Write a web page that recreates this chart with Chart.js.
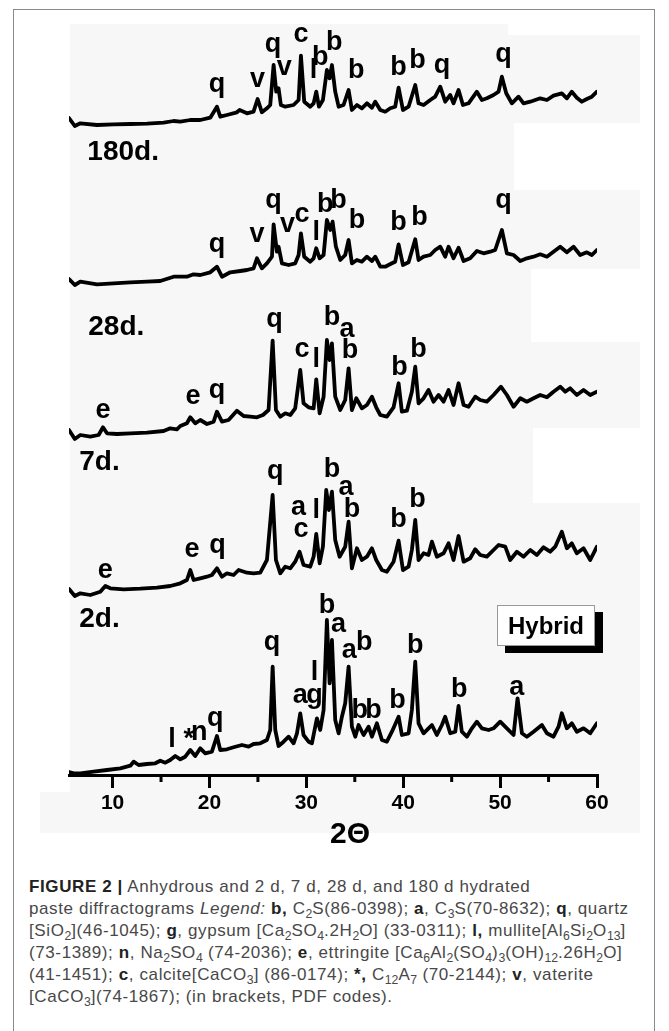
<!DOCTYPE html>
<html>
<head>
<meta charset="utf-8">
<script src="https://cdn.jsdelivr.net/npm/chart.js@4.4.1/dist/chart.umd.min.js"></script>
<style>
  html, body { margin:0; padding:0; background:#fff; }
  body { width:669px; height:1031px; position:relative; overflow:hidden; font-family:"Liberation Sans", Arial, sans-serif; }
  .bg { position:absolute; background:#f7f7f7; }
  .wh { position:absolute; background:#fff; }
  #frame { position:absolute; left:13px; top:9px; width:642px; height:1060px; border:1px solid #8a8a8a; box-sizing:border-box; }
  #wrap { position:absolute; left:0; top:0; width:669px; height:860px; }
  #hybrid { position:absolute; left:497px; top:605px; width:98px; height:41px; box-sizing:border-box; border:1px solid #9a9a9a; background:#fff; box-shadow:8px 7px 0 #000; font-weight:bold; font-size:24px; line-height:39px; text-align:center; color:#000; }
  #caption { position:absolute; left:29px; top:876px; width:635px; font-size:17px; letter-spacing:0.6px; line-height:22px; color:#484848; white-space:nowrap; }
  #caption b { color:#222; }
  #caption sub { font-size:0.72em; line-height:0; vertical-align:-0.3em; letter-spacing:0; }
</style>
</head>
<body>
<div class="bg" style="left:70px;top:24px;width:438px;height:11px;"></div>
<div class="bg" style="left:70px;top:35px;width:570px;height:757px;"></div>
<div class="bg" style="left:40px;top:792px;width:600px;height:41px;"></div>
<div class="wh" style="left:514px;top:123px;width:126px;height:67px;"></div>
<div class="wh" style="left:531px;top:269px;width:109px;height:73px;"></div>
<div class="wh" style="left:533px;top:428px;width:107px;height:75px;"></div>
<div id="frame"></div>
<div id="wrap"><canvas id="c" width="669" height="860"></canvas></div>
<div id="hybrid">Hybrid</div>
<div id="caption">
<b>FIGURE 2 |</b> Anhydrous and 2 d, 7 d, 28 d, and 180 d hydrated<br>
paste diffractograms <i>Legend:</i> <b>b,</b> C<sub>2</sub>S(86-0398); <b>a</b>, C<sub>3</sub>S(70-8632); <b>q</b>, quartz<br>
[SiO<sub>2</sub>](46-1045); <b>g</b>, gypsum [Ca<sub>2</sub>SO<sub>4</sub>.2H<sub>2</sub>O] (33-0311); <b>l,</b> mullite[Al<sub>6</sub>Si<sub>2</sub>O<sub>13</sub>]<br>
(73-1389); <b>n</b>, Na<sub>2</sub>SO<sub>4</sub> (74-2036); <b>e</b>, ettringite [Ca<sub>6</sub>Al<sub>2</sub>(SO<sub>4</sub>)<sub>3</sub>(OH)<sub>12</sub>.26H<sub>2</sub>O]<br>
(41-1451); <b>c</b>, calcite[CaCO<sub>3</sub>] (86-0174); <b>*,</b> C<sub>12</sub>A<sub>7</sub> (70-2144); <b>v</b>, vaterite<br>
[CaCO<sub>3</sub>](74-1867); (in brackets, PDF codes).
</div>
<script>
// ---------- data (2θ in degrees, intensity in arbitrary units) ----------
const tt180 = [5.5,6.1,6.67,8.39,10.11,11.83,13.55,15.27,16.30,16.99,18.02,19.05,20.08,20.77,21.11,21.80,22.83,23.11,23.87,24.55,24.97,25.41,25.93,26.27,26.62,26.89,27.13,27.37,27.82,28.68,29.20,29.44,29.78,30.40,30.75,31.02,31.30,31.71,32.12,32.40,32.64,32.98,33.33,33.84,34.36,34.70,35.22,35.73,36.25,36.77,37.11,37.63,38.14,38.66,39.17,39.52,39.97,40.55,41.24,41.58,42.10,42.79,43.30,43.82,44.33,44.85,45.19,45.71,46.16,46.74,47.60,48.12,48.63,49.32,49.84,50.18,50.63,51.21,51.90,52.42,53.11,54.14,54.83,55.51,56.37,56.89,57.40,57.92,58.44,58.95,59.47,59.99];
const int180 = [7,-1,1.7,0,0.7,1,1.3,2.3,4,3.3,5,5,7.3,18.3,8.3,10,12.7,15,11.7,13.3,26,12.7,16.7,20,60,33.3,36.7,20,18.3,20,25,69.3,23.3,18.3,21.7,33.3,18.3,25,55,46.7,60,33.3,18.3,20,35,15,20,16.7,21.7,17.3,23.3,15,13.3,16.7,18.3,37.3,15,18.3,40,21.7,20,25,28.3,38.3,23.3,30,21.7,35,20,21.7,33.3,25,26.7,30,33.3,48.3,31.7,21.7,28.3,21.7,23.3,26.7,25,29.3,31.7,26.7,33.3,27.3,23.3,26,28.3,33.3];

const tt28 = [5.5,6.1,6.67,8.39,10.11,11.83,13.55,14.92,16.30,17.67,18.36,19.05,20.08,20.77,21.29,22.15,23.18,23.87,24.55,24.90,25.41,25.93,26.45,26.62,26.96,27.13,27.48,28.17,28.85,29.20,29.44,29.78,30.40,30.75,31.02,31.37,31.78,32.12,32.47,32.71,33.05,33.50,34.01,34.36,34.70,35.22,35.73,36.25,36.77,37.11,37.63,38.14,38.83,39.17,39.52,39.97,40.55,41.24,41.58,42.10,42.79,43.30,43.82,44.33,44.68,45.19,45.71,46.23,46.91,47.60,48.29,48.98,49.49,50.18,50.70,51.39,52.08,52.76,53.45,54.14,54.83,55.51,56.20,56.89,57.58,58.26,58.95,59.47,59.99];
const int28 = [6,0,3.3,0.7,1.7,2.7,3.3,4,8.3,8.3,10.7,10,12.7,18.3,8.3,12.7,14,15,16.7,26.7,16.7,21.7,28.3,60.7,33.3,38.3,21.7,20,21.7,30,51.7,28.3,23.3,26.7,36.7,26.7,30,65,55,63.3,38.3,25,30,45,21.7,25,23.3,28.3,24,28.3,18.3,18.3,21.7,23.3,40.7,20,22.7,45.7,25,28.3,30,35,38.3,28.3,38.3,26.7,37.3,24,26.7,34,31.7,33.3,35,55,31.7,30,24,26.7,28.3,30.7,28.3,33.3,38.3,32.7,38.3,30,32.7,30,35];

const tt7 = [5.5,6.1,6.67,7.70,8.56,9.01,9.42,10.45,11.83,13.55,15.27,15.95,16.64,16.99,17.67,18.02,18.53,19.05,19.74,20.43,20.77,21.29,21.97,22.83,23.52,24.21,24.90,25.52,26.10,26.52,26.86,27.31,27.82,28.34,28.85,29.37,29.71,30.23,30.75,31.02,31.37,31.78,32.12,32.40,32.64,32.98,33.50,34.01,34.36,34.70,35.15,35.73,36.25,36.77,37.21,37.63,38.31,39.00,39.52,39.86,40.38,40.89,41.24,41.58,42.10,42.61,43.13,43.65,44.16,44.68,45.19,45.71,46.23,46.74,47.43,47.95,48.63,49.32,50.08,50.70,51.39,52.08,52.76,53.45,54.14,54.83,55.51,56.20,56.72,57.23,57.92,58.61,59.30,59.99];
const int7 = [5,-4,0,-1.7,0,7.7,1.7,1,1.7,2.3,4,6.7,5.7,9,11.7,17.7,11.7,15,11,13.3,23.3,13.3,15,24.3,19,18.3,17.7,20,25,94.3,25,18.3,21.7,20,26.7,65,31.7,27.7,26.7,55.7,21.7,38.3,95,75,91.7,38.3,25,35,66.7,25,36.7,26.7,30,38.3,27.7,20,18.3,27.7,51.7,23.3,24.3,43.3,68.3,31.7,36.7,45,33.3,40,33.3,45,30,51.7,30,28.3,38.3,35,33.3,40,48.3,40,28.3,36.7,33.3,36.7,40,37.7,43.3,48.3,43.3,46.7,40,45,40,43.3];

const tt2 = [5.5,6.1,6.67,7.70,8.73,9.25,9.76,11.14,12.86,14.58,15.95,16.99,17.67,18.02,18.36,19.05,19.74,20.25,20.77,21.29,21.80,22.49,23.01,23.87,24.55,25.24,25.93,26.52,26.86,27.31,27.82,28.34,28.85,29.30,29.71,30.40,30.75,31.02,31.37,31.71,32.05,32.33,32.64,32.98,33.43,34.01,34.36,34.70,35.22,35.73,36.25,36.77,37.21,37.80,38.31,39.00,39.52,39.97,40.55,40.89,41.24,41.58,42.10,42.61,42.96,43.47,44.16,44.68,45.19,45.71,46.23,46.91,47.43,47.95,48.63,49.32,49.84,50.53,51.04,51.73,52.42,53.11,53.79,54.48,55.17,55.69,56.37,56.89,57.40,57.92,58.61,59.30,59.99];
const int2 = [6,-1,1.7,0,3.3,9,6.7,5.7,6.3,7.3,9,11.7,15,25,15,16.7,18.3,20,26.7,18.3,21.7,20,25,22.3,21.7,22.3,35,100,35,21.7,28.3,26.7,33.3,43.3,30,28.3,38.3,61,31.7,48.3,105,85,103.3,55,38.3,48.3,73.3,26.7,46.7,35,38.3,46.7,35,25,23.3,33.3,54.3,25,28.3,45,75,35,41.7,40,53.3,38.3,41.7,51.7,35,59,33.3,36.7,45.7,40,38.3,45,50,48.3,35,43.3,38.3,45,40,47.7,43.3,48.3,63.3,46.7,51.7,41.7,46.7,35,48.3];

const ttAnh = [5.5,6.1,6.67,8.04,9.42,10.80,11.83,12.17,12.69,13.55,14.41,14.92,15.44,15.95,16.47,16.99,17.50,18.02,18.53,19.05,19.57,20.25,20.77,21.11,21.80,22.49,23.35,24.04,24.55,25.24,25.93,26.27,26.52,26.79,27.13,27.65,28.17,28.68,29.03,29.37,29.71,30.23,30.57,30.92,31.09,31.43,31.78,32.12,32.40,32.64,32.98,33.33,33.67,34.01,34.36,34.70,35.05,35.39,35.91,36.42,36.77,37.28,37.80,38.31,38.83,39.52,39.86,40.55,40.89,41.24,41.58,42.10,42.61,42.96,43.47,43.99,44.33,44.85,45.37,45.71,46.05,46.57,47.09,47.60,48.12,48.81,49.32,50.01,50.70,51.39,51.80,52.25,52.76,53.45,54.31,54.83,55.51,56.03,56.37,56.89,57.40,57.92,58.61,59.30,59.99];
const intAnh = [3,1.5,1.7,3.3,5,6.7,9.3,13.3,10,11,11.7,14.3,12.3,15,19,15.7,18.3,25,19,26.7,21.7,23.3,39,25,25.7,27.7,30,28.3,31,31.7,35,45,108.3,45,29,33.3,38.3,31.7,41.7,61.7,40,33.3,31.7,48.3,56.7,45,65,155,91.7,135,55,41.7,58.3,71.7,108.3,48.3,38.3,50,40,48.3,38.3,51.7,35,33.3,43.3,58.3,40,41.7,65,113.3,51.7,41.7,46.7,50,40,50,58.3,41.7,43.3,69,43.3,38.3,46.7,53.3,46.7,45,46.7,53.3,46.7,40,76.7,41.7,38.3,43.3,50,41.7,38.3,48.3,61.7,46.7,51.7,43.3,46.7,41.7,51.7];

// vertical stacking offsets of the patterns (same units as intensity)
const offsets = { d180:650, d28:490, d7:340, d2:180, anh:0 };

// phase labels: letter, 2θ, height above the pattern's offset
const lab180Text = ['q','v','q','v','c','l','b','b','b','b','b','q','q'];
const lab180X    = [20.77,24.97,26.55,27.72,29.44,30.75,31.43,32.88,35.15,39.52,41.48,44.0,50.35];
const lab180Y    = [33.3,38.3,73.3,50,83.3,46.7,60,75,46.7,50,56.7,51.7,63.3];

const lab28Text = ['q','v','q','v','c','l','b','b','b','b','b','q'];
const lab28X    = [20.77,24.90,26.62,28.06,29.54,31.02,31.95,33.33,35.22,39.52,41.69,50.35];
const lab28Y    = [32.7,43.3,76.7,53.3,63.3,45,73.3,76.7,56.7,55,60,76.7];

const lab7Text = ['e','e','q','q','b','a','c','l','b','b','b'];
const lab7X    = [9.01,18.3,20.77,26.72,32.64,34.2,29.54,31.02,34.5,39.62,41.58];
const lab7Y    = [17.3,30.7,36.7,108,110,98,78.3,68.3,76.7,60,78.3];

const lab2Text = ['e','e','q','q','b','a','a','c','l','b','b','b'];
const lab2X    = [9.25,18.19,20.84,26.79,32.64,34.08,29.2,29.44,31.02,34.7,39.52,41.48];
const lab2Y    = [17.3,38.3,41.7,115.7,118.3,100,80,58.3,76.7,78.3,68.3,88.3];

const labAnhText = ['l','*','n','q','q','a','g','l','b','a','a','b','b','b','b','b','b','a'];
const labAnhX    = [16.13,17.85,18.95,20.6,26.45,29.37,30.85,30.85,32.12,33.33,34.43,35.97,35.5,36.94,39.42,41.24,45.78,51.73];
const labAnhY    = [28.3,28.3,35,49,125,71.7,71.7,95,162,143.3,116.7,125,56.7,56.7,66.7,121.7,78.3,80];

// pattern names (2θ position, absolute height of text baseline)
const ageText = ['180d.','28d.','7d.','2d.'];
const ageX    = [7.39,7.49,6.56,6.56];
const ageY    = [615,440,305,148];

const tickValues  = [10,20,30,40,50,60];
const minorValues = [15,25,35,45,55];
const xTitle = '2\u0398';

// ---------- chart ----------
const FONT = '"Liberation Sans", Arial, Helvetica, sans-serif';
const traces = [
  { name:'180 d', x:tt180, y:int180, off:offsets.d180, lt:lab180Text, lx:lab180X, ly:lab180Y },
  { name:'28 d',  x:tt28,  y:int28,  off:offsets.d28,  lt:lab28Text,  lx:lab28X,  ly:lab28Y },
  { name:'7 d',   x:tt7,   y:int7,   off:offsets.d7,   lt:lab7Text,   lx:lab7X,   ly:lab7Y },
  { name:'2 d',   x:tt2,   y:int2,   off:offsets.d2,   lt:lab2Text,   lx:lab2X,   ly:lab2Y },
  { name:'Anhydrous', x:ttAnh, y:intAnh, off:offsets.anh, lt:labAnhText, lx:labAnhX, ly:labAnhY }
];

const textPlugin = {
  id:'xrdText',
  afterDraw(chart) {
    const c = chart.ctx, xs = chart.scales.x, ys = chart.scales.y, area = chart.chartArea;
    c.save();
    // minor ticks
    c.strokeStyle = '#000'; c.lineWidth = 3; c.lineCap = 'butt';
    minorValues.forEach(v => {
      const px = xs.getPixelForValue(v);
      c.beginPath(); c.moveTo(px, area.bottom); c.lineTo(px, area.bottom + 7); c.stroke();
    });
    // phase letters
    c.fillStyle = '#000';
    c.textAlign = 'center'; c.textBaseline = 'alphabetic';
    c.font = 'bold 27px ' + FONT;
    traces.forEach(t => {
      t.lt.forEach((s, i) => {
        c.fillText(s, xs.getPixelForValue(t.lx[i]), ys.getPixelForValue(t.off + t.ly[i]));
      });
    });
    // ages
    c.textAlign = 'left';
    c.font = 'bold 28px ' + FONT;
    ageText.forEach((s, i) => c.fillText(s, xs.getPixelForValue(ageX[i]), ys.getPixelForValue(ageY[i])));
    // axis title
    c.textAlign = 'center';
    c.font = 'bold 30px ' + FONT;
    c.fillText(xTitle, (area.left + area.right) / 2 + 17, area.bottom + 68);
    c.restore();
  }
};

new Chart(document.getElementById('c'), {
  type:'line',
  data:{
    datasets: traces.map(t => ({
      label:t.name,
      data:t.x.map((v, i) => ({ x:v, y:t.y[i] + t.off })),
      borderColor:'#000', borderWidth:3.8, pointRadius:0, tension:0, fill:false,
      borderJoinStyle:'round', borderCapStyle:'round'
    }))
  },
  options:{
    responsive:false, animation:false, devicePixelRatio:1,
    layout:{ padding:{ left:69, right:72, top:0, bottom:45 } },
    plugins:{ legend:{ display:false }, tooltip:{ enabled:false }, title:{ display:false } },
    scales:{
      x:{
        type:'linear', min:5.5, max:60,
        afterBuildTicks: s => { s.ticks = tickValues.map(v => ({ value:v })); },
        afterFit: s => { s.height = 40; },
        grid:{ drawOnChartArea:false, drawTicks:true, tickLength:13, lineWidth:3, color:'#000' },
        border:{ display:true, width:3, color:'#000' },
        ticks:{ font:{ family:FONT, size:21, weight:'bold' }, color:'#000', padding:3, maxRotation:0, autoSkip:false }
      },
      y:{ display:false, min:0, max:775 }
    }
  },
  plugins:[textPlugin]
});
</script>
</body>
</html>
